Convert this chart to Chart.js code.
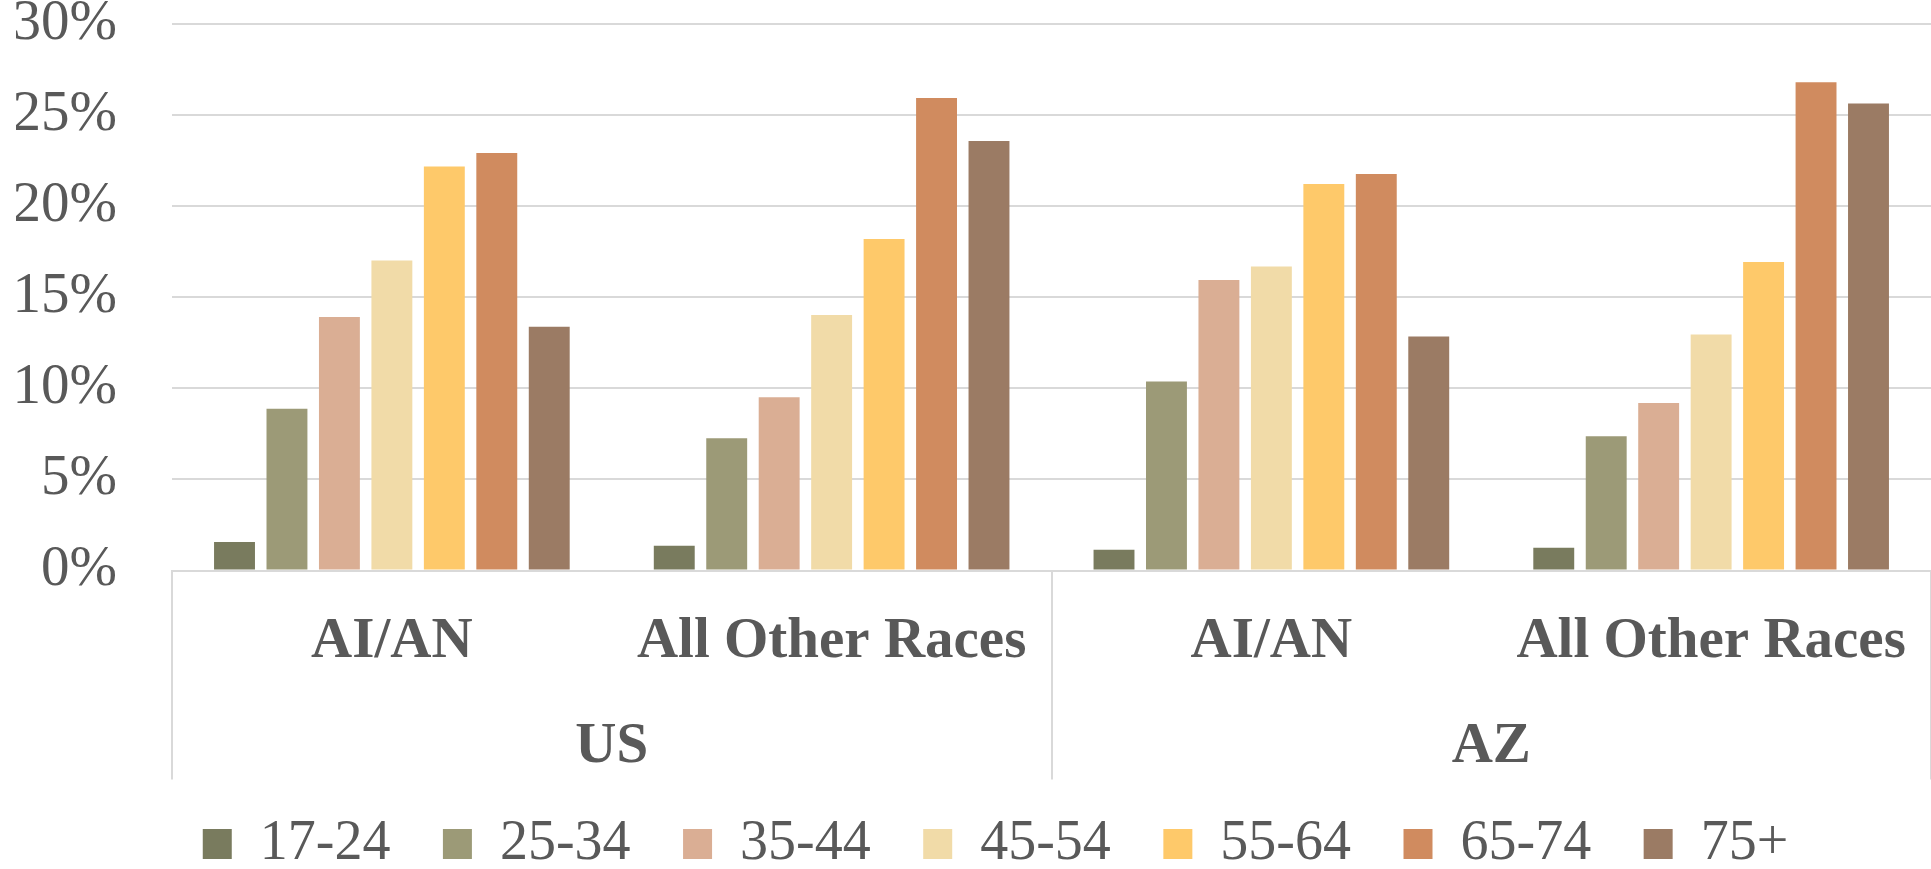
<!DOCTYPE html>
<html>
<head>
<meta charset="utf-8">
<script src="https://cdn.jsdelivr.net/npm/chart.js@4"></script>
<style>
  html, body { margin: 0; padding: 0; background: #ffffff; }
  #wrap { width: 1931px; height: 869px; }
</style>
</head>
<body>
<div id="wrap"><canvas id="chart"></canvas></div>
<script>
// categorias (nível interno e externo)
const races = ["AI/AN", "All Other Races", "AI/AN", "All Other Races"];
const regions = ["US", "AZ"];
const ageGroups = ["17-24", "25-34", "35-44", "45-54", "55-64", "65-74", "75+"];

// valores em %: US AI/AN, US outras, AZ AI/AN, AZ outras
const age17to24 = [1.57, 1.36, 1.14, 1.25];
const age25to34 = [8.88, 7.26, 10.37, 7.37];
const age35to44 = [13.91, 9.51, 15.95, 9.19];
const age45to54 = [17.02, 14.02, 16.69, 12.95];
const age55to64 = [22.18, 18.2, 21.22, 16.93];
const age65to74 = [22.92, 25.94, 21.76, 26.8];
const age75plus = [13.38, 23.58, 12.84, 25.64];

const yTicks = [0, 5, 10, 15, 20, 25, 30];

const series = [age17to24, age25to34, age35to44, age45to54, age55to64, age65to74, age75plus];
const cores = ['#797b5e', '#9c9a77', '#daae94', '#f1dba8', '#fec96a', '#d08b5f', '#9b7b64'];

const textColor = '#595959';
const lineColor = '#d9d9d9';
const serif = "'Liberation Serif', 'Times New Roman', serif";

// só as bordas dos grupos US / AZ levam linha vertical
const separador = ctx => (ctx.index === undefined || ctx.index % 2 === 0) ? lineColor : 'rgba(0,0,0,0)';

const datasets = ageGroups.map((label, i) => ({
    label: label,
    data: series[i],
    backgroundColor: cores[i],
    borderWidth: 0,
    categoryPercentage: 0.835,
    barPercentage: 0.78
}));

// a legenda do original fica um pouco à direita do centro
const legendShift = {
    id: 'legendShift',
    afterLayout(chart) {
        if (chart.legend) {
            chart.legend.left += 22;
            chart.legend.right += 22;
        }
    }
};

new Chart(document.getElementById('chart'), {
    type: 'bar',
    data: {
        labels: races,
        datasets: datasets
    },
    plugins: [legendShift],
    options: {
        responsive: true,
        maintainAspectRatio: false,
        animation: false,
        layout: {
            padding: { left: 16, right: 0, top: 24, bottom: -13 }
        },
        scales: {
            x: {
                position: 'bottom',
                grid: {
                    offset: true,
                    drawOnChartArea: false,
                    tickLength: 209,
                    lineWidth: 2,
                    color: separador,
                    tickColor: separador
                },
                border: { display: true, color: lineColor, width: 2 },
                ticks: {
                    autoSkip: false,
                    maxRotation: 0,
                    padding: -166,
                    color: textColor,
                    font: { family: serif, size: 57, weight: 'bold', lineHeight: 1 }
                },
                afterFit: scale => { scale.height = 99; }
            },
            x2: {
                type: 'category',
                labels: regions,
                position: 'bottom',
                offset: true,
                grid: { display: false, drawTicks: false },
                border: { display: false },
                ticks: {
                    autoSkip: false,
                    maxRotation: 0,
                    padding: 61,
                    color: textColor,
                    font: { family: serif, size: 57, weight: 'bold', lineHeight: 0.6 }
                },
                afterFit: scale => { scale.height = 94; }
            },
            y: {
                min: yTicks[0],
                max: yTicks[yTicks.length - 1],
                border: { display: false },
                grid: { color: lineColor, lineWidth: 2, drawTicks: false },
                afterBuildTicks: axis => { axis.ticks = yTicks.map(v => ({ value: v })); },
                ticks: {
                    padding: 55,
                    color: textColor,
                    font: { family: serif, size: 57, lineHeight: 0.85 },
                    callback: v => v + '%'
                },
                afterFit: scale => {
                    scale.width = 156;
                    scale.paddingTop = 0;
                    scale.paddingBottom = 0;
                }
            }
        },
        plugins: {
            legend: {
                position: 'bottom',
                labels: {
                    boxWidth: 29,
                    boxHeight: 30,
                    padding: 52.5,
                    color: textColor,
                    font: { family: serif, size: 56 }
                }
            },
            tooltip: { enabled: false }
        }
    }
});
</script>
</body>
</html>
